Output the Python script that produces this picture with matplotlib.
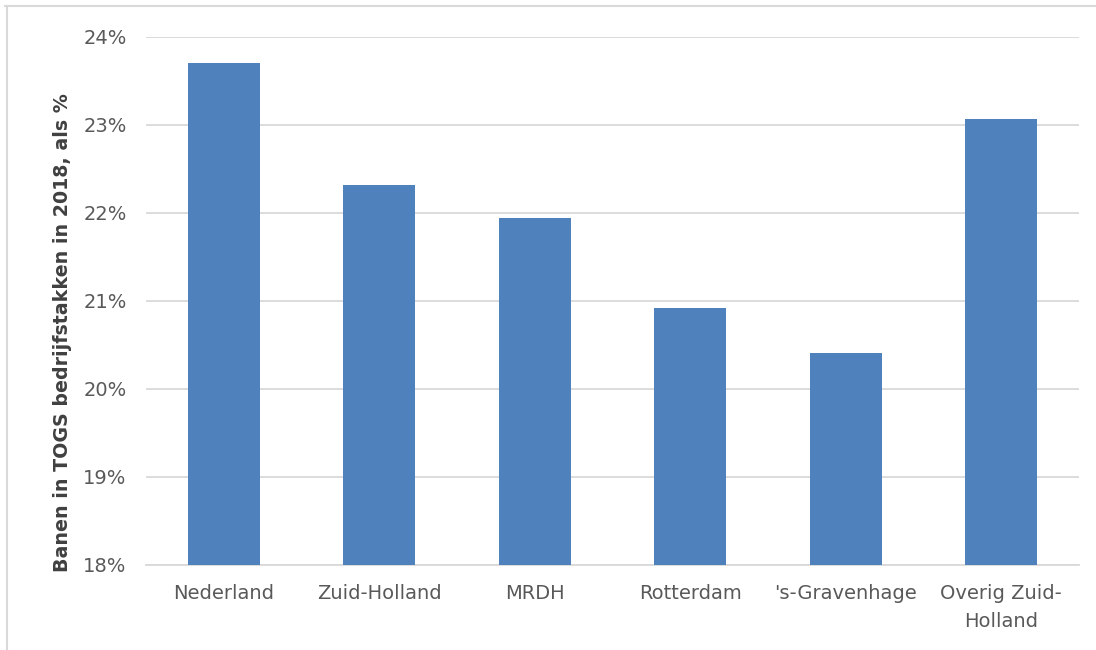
import matplotlib
matplotlib.use("Agg")
import matplotlib.pyplot as plt
from matplotlib.lines import Line2D
from matplotlib.ticker import FuncFormatter, MultipleLocator

# Share of jobs in TOGS sectors, 2018
categories = ["Nederland", "Zuid-Holland", "MRDH", "Rotterdam",
              "'s-Gravenhage", "Overig Zuid-\nHolland"]
values = [23.70, 22.32, 21.94, 20.92, 20.41, 23.07]
y_min, y_max = 18, 24
y_label = "Banen in TOGS bedrijfstakken in 2018, als %"

bar_color = "#4F81BD"
grid_color = "#D9D9D9"
text_color = "#595959"

fig = plt.figure(figsize=(10.96, 6.5), dpi=100)
ax = fig.add_axes([0.1332, 0.1308, 0.8513, 0.8123])

x = range(len(categories))
ax.bar(x, values, width=0.46, color=bar_color, zorder=3)

ax.set_ylim(y_min, y_max)
ax.set_xlim(-0.5, len(categories) - 0.5)
ax.yaxis.set_major_locator(MultipleLocator(1))
ax.yaxis.set_major_formatter(FuncFormatter(lambda v, _: f"{v:.0f}%"))
ax.grid(axis="y", color=grid_color, linewidth=1.3, zorder=0)
ax.set_axisbelow(True)

for side in ["top", "right", "left"]:
    ax.spines[side].set_visible(False)
ax.spines["bottom"].set_color(grid_color)
ax.spines["bottom"].set_linewidth(1.3)

ax.set_xticks(list(x))
ax.set_xticklabels(categories, linespacing=1.6)
ax.tick_params(axis="both", length=0, colors=text_color)
ax.tick_params(axis="x", pad=14)
ax.tick_params(axis="y", pad=14)
for lbl in ax.get_xticklabels() + ax.get_yticklabels():
    lbl.set_fontsize(14)
    lbl.set_color(text_color)

ax.set_ylabel(y_label, fontsize=13.7, fontweight="bold", color="#404040",
              fontfamily="DejaVu Sans")
ax.yaxis.set_label_coords(-0.079, 0.44)

# Light frame around the chart area
fig.add_artist(Line2D([5 / 1096, 1.0], [1 - 6 / 650, 1 - 6 / 650],
                      transform=fig.transFigure, color=grid_color, linewidth=1.5))
fig.add_artist(Line2D([7 / 1096, 7 / 1096], [0.0, 1 - 6 / 650],
                      transform=fig.transFigure, color=grid_color, linewidth=1.5))

fig.savefig("out.png", dpi=100, facecolor="white")
